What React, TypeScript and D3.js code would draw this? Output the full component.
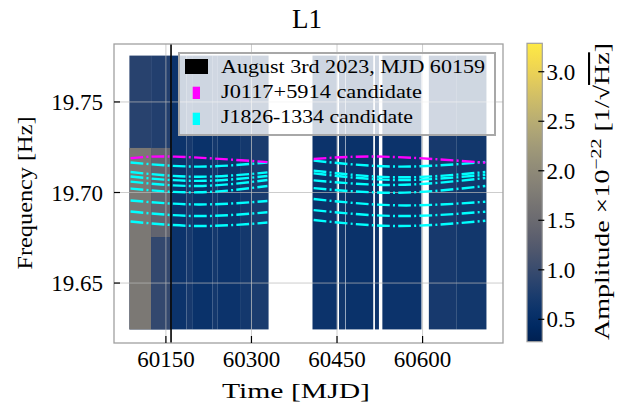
import * as d3 from "d3";

const SERIF = "'Liberation Serif', 'Times New Roman', serif";

// axis ticks
const freqTicks = [19.65, 19.7, 19.75];
const timeTicks = [60150, 60300, 60450, 60600];
const ampTicks = [0.5, 1.0, 1.5, 2.0, 2.5, 3.0];

const eventMJD = 60159;
const bandLow = 19.6244;
const bandHigh = 19.7756;

// data segments [start MJD, end MJD, typical amplitude]
const segments: [number, number, number][] = [
  [60086, 60124, 0.85],
  [60124, 60160, 0.8],
  [60160, 60186, 0.6],
  [60186, 60196, 0.7],
  [60196, 60232, 0.58],
  [60232, 60240, 0.68],
  [60240, 60280, 0.6],
  [60280, 60300, 0.68],
  [60300, 60330, 0.74],
  [60407, 60450.5, 0.6],
  [60453.5, 60464, 0.64],
  [60465, 60513.5, 0.58],
  [60516.5, 60523.5, 0.6],
  [60529.5, 60598, 0.6],
  [60611, 60660, 0.7],
  [60660, 60712, 0.66],
];

// louder stretches [start, end, fLow, fHigh, amplitude]
const patches: [number, number, number, number, number][] = [
  [60086, 60124, 19.6244, 19.7246, 1.72],
  [60124, 60158, 19.6754, 19.7246, 1.4],
  [60124, 60158, 19.6244, 19.6754, 0.95],
];

// candidate tracks
const magentaMjd1 = [60088, 60166, 60328];
const magentaMjd2 = [60409, 60530, 60710];
const magentaFreq1 = [19.7189, 19.7198, 19.7168];
const magentaFreq2 = [19.7185, 19.7198, 19.7165];

const cyanMjd1 = [60088, 60207, 60328];
const cyanMjd2 = [60409, 60557, 60710];
const cyanFreq1 = [
  [19.7166, 19.7143, 19.7166],
  [19.7113, 19.7087, 19.7111],
  [19.7088, 19.7064, 19.7091],
  [19.706, 19.7036, 19.7069],
  [19.7022, 19.7001, 19.7036],
  [19.6956, 19.6934, 19.6953],
  [19.6895, 19.687, 19.6891],
  [19.684, 19.6815, 19.6834],
];
const cyanFreq2 = [
  [19.7176, 19.7143, 19.7169],
  [19.7121, 19.7084, 19.7113],
  [19.7106, 19.7069, 19.7098],
  [19.7067, 19.7042, 19.708],
  [19.7024, 19.6999, 19.7036],
  [19.6964, 19.6929, 19.6949],
  [19.6903, 19.687, 19.6894],
  [19.6848, 19.6815, 19.6844],
];

const legendLabels = [
  "August 3rd 2023, MJD 60159",
  "J0117+5914 candidate",
  "J1826-1334 candidate",
];

export default function App() {
  const left = 114;
  const right = 503;
  const top = 44;
  const bottom = 343;

  const x = d3.scaleLinear().domain([60059, 60741]).range([left, right]);
  const y = d3.scaleLinear().domain([19.6169, 19.782]).range([bottom, top]);
  const ampDomain: [number, number] = [0.274, 3.287];
  const color = d3.scaleSequential(d3.interpolateCividis).domain(ampDomain);

  const cbLeft = 527;
  const cbRight = 542.3;
  const cbY = d3.scaleLinear().domain(ampDomain).range([341.7, 43.3]);

  const line = d3
    .line<[number, number]>()
    .x((d) => x(d[0]))
    .y((d) => y(d[1]))
    .curve(d3.curveNatural);

  const magentaPaths = [
    magentaMjd1.map((t, i) => [t, magentaFreq1[i]] as [number, number]),
    magentaMjd2.map((t, i) => [t, magentaFreq2[i]] as [number, number]),
  ];
  const cyanPaths: [number, number][][] = [];
  cyanFreq1.forEach((fs) =>
    cyanPaths.push(cyanMjd1.map((t, i) => [t, fs[i]] as [number, number]))
  );
  cyanFreq2.forEach((fs) =>
    cyanPaths.push(cyanMjd2.map((t, i) => [t, fs[i]] as [number, number]))
  );

  const dash = "12.8,3.2,2,3.2";
  const stops = d3.range(0, 1.0001, 0.05);

  return (
    <svg
      width={631}
      height={406}
      style={{ position: "absolute", left: 0, top: 0, background: "white" }}
      fontFamily={SERIF}
    >
      <defs>
        <linearGradient id="cbar" x1="0" y1="1" x2="0" y2="0">
          {stops.map((s) => (
            <stop
              key={s}
              offset={`${s * 100}%`}
              stopColor={d3.interpolateCividis(s)}
            />
          ))}
        </linearGradient>
        <clipPath id="plotArea">
          <rect x={left} y={top} width={right - left} height={bottom - top} />
        </clipPath>
      </defs>

      {/* title */}
      <text x={307} y={28} fontSize={27} textAnchor="middle">
        L1
      </text>

      {/* spectrogram */}
      <g clipPath="url(#plotArea)">
        {segments.map(([t0, t1, a], i) => (
          <rect
            key={"s" + i}
            x={x(t0)}
            y={y(bandHigh)}
            width={x(t1) - x(t0)}
            height={y(bandLow) - y(bandHigh)}
            fill={color(a)}
          />
        ))}
        {patches.map(([t0, t1, f0, f1, a], i) => (
          <rect
            key={"p" + i}
            x={x(t0)}
            y={y(f1)}
            width={x(t1) - x(t0)}
            height={y(f0) - y(f1)}
            fill={color(a)}
          />
        ))}

        {/* grid */}
        {freqTicks.map((f) => (
          <line
            key={"gy" + f}
            x1={left}
            x2={right}
            y1={y(f)}
            y2={y(f)}
            stroke="#b8b8b8"
            strokeOpacity={0.7}
            strokeWidth={1}
          />
        ))}
        {timeTicks.map((t) => (
          <line
            key={"gx" + t}
            x1={x(t)}
            x2={x(t)}
            y1={top}
            y2={bottom}
            stroke="#b8b8b8"
            strokeOpacity={0.7}
            strokeWidth={1}
          />
        ))}

        {/* candidate tracks */}
        {cyanPaths.map((p, i) => (
          <path
            key={"c" + i}
            d={line(p) || ""}
            fill="none"
            stroke="#00ffff"
            strokeWidth={2.4}
            strokeDasharray={dash}
          />
        ))}
        {magentaPaths.map((p, i) => (
          <path
            key={"m" + i}
            d={line(p) || ""}
            fill="none"
            stroke="#ff00ff"
            strokeWidth={2.4}
            strokeDasharray={dash}
          />
        ))}

        {/* event marker */}
        <line
          x1={x(eventMJD)}
          x2={x(eventMJD)}
          y1={top}
          y2={bottom}
          stroke="black"
          strokeWidth={1.6}
        />
      </g>

      {/* legend */}
      <g>
        <rect
          x={179}
          y={53}
          width={316}
          height={82}
          fill="white"
          fillOpacity={0.8}
          stroke="#a8a8a8"
          strokeWidth={2}
        />
        <rect x={185} y={59} width={23} height={15} fill="black" />
        <rect x={192.7} y={86.7} width={7.3} height={12.3} fill="#ff00ff" />
        <rect x={192.7} y={112.7} width={7.3} height={12.3} fill="#00ffff" />
        {legendLabels.map((l, i) => (
          <text
            key={l}
            x={221}
            y={73.3 + i * 25}
            fontSize={19}
            textLength={[264, 201, 192][i]}
            lengthAdjust="spacingAndGlyphs"
          >
            {l}
          </text>
        ))}
      </g>

      {/* frame */}
      <rect
        x={left}
        y={top}
        width={right - left}
        height={bottom - top}
        fill="none"
        stroke="#a0a0a0"
        strokeWidth={1.3}
      />

      {/* y axis */}
      {freqTicks.map((f) => (
        <g key={"yt" + f}>
          <line
            x1={left}
            x2={left + 6}
            y1={y(f)}
            y2={y(f)}
            stroke="black"
            strokeWidth={1.2}
          />
          <text x={103} y={y(f) + 8} fontSize={23} textAnchor="end">
            {f.toFixed(2)}
          </text>
        </g>
      ))}
      <text
        transform={`translate(32,193) rotate(-90)`}
        fontSize={22}
        textAnchor="middle"
        textLength={153}
        lengthAdjust="spacingAndGlyphs"
      >
        Frequency [Hz]
      </text>

      {/* x axis */}
      {timeTicks.map((t) => (
        <g key={"xt" + t}>
          <line
            x1={x(t)}
            x2={x(t)}
            y1={bottom}
            y2={bottom - 7}
            stroke="black"
            strokeWidth={1.2}
          />
          <text x={x(t)} y={367} fontSize={23} textAnchor="middle">
            {t}
          </text>
        </g>
      ))}
      <text
        x={296}
        y={398}
        fontSize={21}
        textAnchor="middle"
        textLength={148}
        lengthAdjust="spacingAndGlyphs"
      >
        Time [MJD]
      </text>

      {/* colorbar */}
      <rect
        x={cbLeft}
        y={cbY(ampDomain[1])}
        width={cbRight - cbLeft}
        height={cbY(ampDomain[0]) - cbY(ampDomain[1])}
        fill="url(#cbar)"
        stroke="#a0a0a0"
        strokeWidth={1.2}
      />
      {ampTicks.map((a) => (
        <g key={"ct" + a}>
          <line
            x1={cbRight - 4}
            x2={cbRight + 2}
            y1={cbY(a)}
            y2={cbY(a)}
            stroke="black"
            strokeWidth={1.2}
          />
          <text x={546.5} y={cbY(a) + 8} fontSize={23}>
            {a.toFixed(1)}
          </text>
        </g>
      ))}
      <text
        transform={`translate(609,191.5) rotate(-90)`}
        fontSize={21}
        textAnchor="middle"
        textLength={297}
        lengthAdjust="spacingAndGlyphs"
      >
        Amplitude ×10
        <tspan dy={-8} fontSize={15}>
          −22
        </tspan>
        <tspan dy={8}> [1/√</tspan>
        <tspan style={{ textDecoration: "overline" }}>Hz</tspan>
        <tspan>]</tspan>
      </text>
    </svg>
  );
}
